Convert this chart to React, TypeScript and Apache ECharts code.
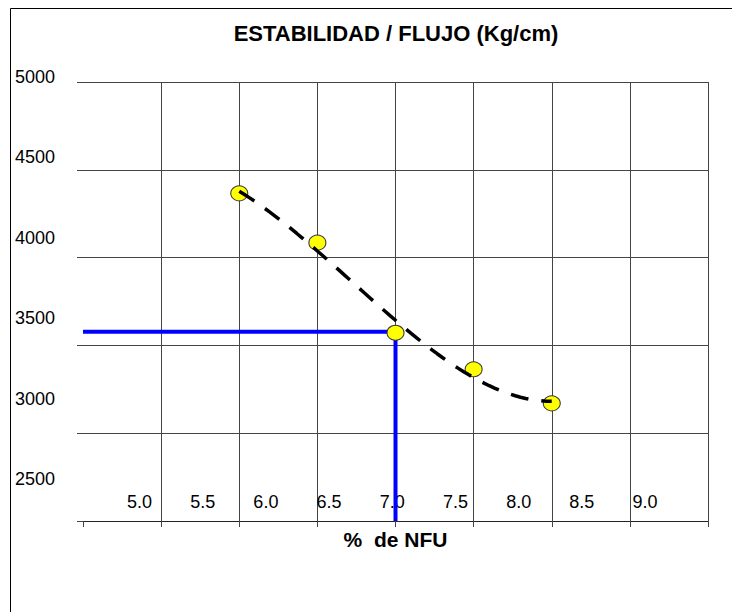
import React, { useEffect, useRef } from "react";
import * as echarts from "echarts";

const X_PCT = [6.0, 6.5, 7.0, 7.5, 8.0];
const Y_STAB = [4366, 4085, 3572, 3364, 3170];
const X_TICK_LABELS = [5.0, 5.5, 6.0, 6.5, 7.0, 7.5, 8.0, 8.5, 9.0];
const Y_TICK_LABELS = [2500, 3000, 3500, 4000, 4500, 5000];
const GUIDE_X = [5.0, 7.0, 7.0];
const GUIDE_Y = [3578, 3578, 2500];
const TITLE = "ESTABILIDAD / FLUJO (Kg/cm)";
const X_NAME = "%  de NFU";

const FONT = "'Liberation Sans', Arial, sans-serif";

// Least-squares cubic trendline (like the spreadsheet's polynomial trendline)
function cubicFit(xs: number[], ys: number[]) {
  const n = 4;
  const xm = xs.reduce((a, b) => a + b, 0) / xs.length;
  const A: number[][] = [];
  for (let i = 0; i < n; i++) {
    A.push(new Array(n + 1).fill(0));
  }
  xs.forEach((x0, k) => {
    const t = x0 - xm;
    for (let i = 0; i < n; i++) {
      for (let j = 0; j < n; j++) A[i][j] += Math.pow(t, i + j);
      A[i][n] += Math.pow(t, i) * ys[k];
    }
  });
  for (let c = 0; c < n; c++) {
    let p = c;
    for (let r = c + 1; r < n; r++) if (Math.abs(A[r][c]) > Math.abs(A[p][c])) p = r;
    [A[c], A[p]] = [A[p], A[c]];
    for (let r = 0; r < n; r++) {
      if (r === c) continue;
      const f = A[r][c] / A[c][c];
      for (let k = c; k <= n; k++) A[r][k] -= f * A[c][k];
    }
  }
  const coef = A.map((row, i) => row[n] / row[i]);
  return (x: number) => {
    const t = x - xm;
    return coef[0] + coef[1] * t + coef[2] * t * t + coef[3] * t * t * t;
  };
}

export default function App() {
  const ref = useRef<HTMLDivElement>(null);
  useEffect(() => {
    if (!ref.current) return;
    const chart = echarts.init(ref.current, undefined, { renderer: "svg" });
    const f = cubicFit(X_PCT, Y_STAB);
    const trend: number[][] = [];
    const x0 = X_PCT[0];
    const x1 = X_PCT[X_PCT.length - 1];
    const steps = 60;
    for (let i = 0; i <= steps; i++) {
      const x = x0 + ((x1 - x0) * i) / steps;
      trend.push([x, f(x)]);
    }
    const gridColor = "#444";
    chart.setOption({
      animation: false,
      backgroundColor: "#fff",
      grid: [
        { left: 83, right: 24, top: 82, bottom: 91, outerBoundsMode: "none" },
        { left: 83, right: 24, top: 77, bottom: 133, outerBoundsMode: "none" },
      ] as any,
      graphic: [
        {
          type: "line",
          shape: { x1: 10.5, y1: 8.5, x2: 732, y2: 8.5 },
          style: { stroke: "#000", lineWidth: 1 },
        },
        {
          type: "line",
          shape: { x1: 10.5, y1: 8.5, x2: 10.5, y2: 612 },
          style: { stroke: "#000", lineWidth: 1 },
        },
        {
          type: "text",
          x: 396,
          y: 33,
          style: {
            text: TITLE,
            fontFamily: FONT,
            fontWeight: "bold",
            fontSize: 22,
            fill: "#000",
            textAlign: "center",
            textVerticalAlign: "middle",
          },
        },
      ],
      xAxis: [
        {
          type: "value",
          gridIndex: 0,
          min: 5,
          max: 9,
          interval: 0.5,
          position: "bottom",
          name: X_NAME,
          nameLocation: "middle",
          nameGap: 8,
          nameTextStyle: {
            fontFamily: FONT,
            fontWeight: "bold",
            fontSize: 21,
            color: "#000",
            verticalAlign: "top",
          },
          axisLine: { show: true, lineStyle: { color: "#222", width: 1 } },
          axisTick: { show: true, length: 6, lineStyle: { color: gridColor } },
          axisLabel: { show: false },
          splitLine: { show: true, showMinLine: false, lineStyle: { color: gridColor, width: 1 } },
        },
        {
          type: "value",
          gridIndex: 0,
          min: 4.553,
          max: 9.498,
          position: "bottom",
          axisLine: { show: false },
          axisTick: { show: false },
          splitLine: { show: false },
          axisLabel: {
            show: true,
            customValues: X_TICK_LABELS,
            inside: true,
            margin: 19,
            verticalAlign: "middle",
            fontFamily: FONT,
            fontSize: 18,
            color: "#000",
            formatter: (v: number) => v.toFixed(1),
          },
        },
        {
          type: "value",
          gridIndex: 1,
          min: 5,
          max: 9,
          show: false,
        },
      ],
      yAxis: [
        {
          type: "value",
          gridIndex: 0,
          min: 2500,
          max: 5000,
          interval: 500,
          position: "left",
          axisLine: { show: false },
          axisTick: { show: true, length: 6, lineStyle: { color: gridColor } },
          axisLabel: { show: false },
          splitLine: { show: true, lineStyle: { color: gridColor, width: 1 } },
        },
        {
          type: "value",
          gridIndex: 1,
          min: 2500,
          max: 5000,
          position: "left",
          axisLine: { show: false },
          axisTick: { show: false },
          splitLine: { show: false },
          axisLabel: {
            show: true,
            customValues: Y_TICK_LABELS,
            align: "left",
            margin: 68,
            verticalAlign: "middle",
            fontFamily: FONT,
            fontSize: 18,
            color: "#000",
            formatter: (v: number) => String(v),
          },
        },
      ],
      series: [
        {
          type: "line",
          xAxisIndex: 0,
          yAxisIndex: 0,
          data: GUIDE_X.map((x, i) => [x, GUIDE_Y[i]]),
          symbol: "none",
          lineStyle: { color: "#0000FF", width: 4 },
          z: 2,
          silent: true,
        },
        {
          type: "scatter",
          xAxisIndex: 0,
          yAxisIndex: 0,
          data: X_PCT.map((x, i) => [x, Y_STAB[i]]),
          symbol: "circle",
          symbolSize: [17, 15],
          itemStyle: { color: "#FFFF00", borderColor: "#333", borderWidth: 1, opacity: 1 },
          z: 3,
        },
        {
          type: "line",
          xAxisIndex: 0,
          yAxisIndex: 0,
          data: trend,
          symbol: "none",
          smooth: false,
          lineStyle: { color: "#000", width: 3.5, type: [18, 13] },
          z: 4,
          silent: true,
        },
      ],
    });
    return () => chart.dispose();
  }, []);
  return (
    <div
      ref={ref}
      style={{ position: "absolute", left: 0, top: 0, width: 732, height: 612 }}
    />
  );
}
